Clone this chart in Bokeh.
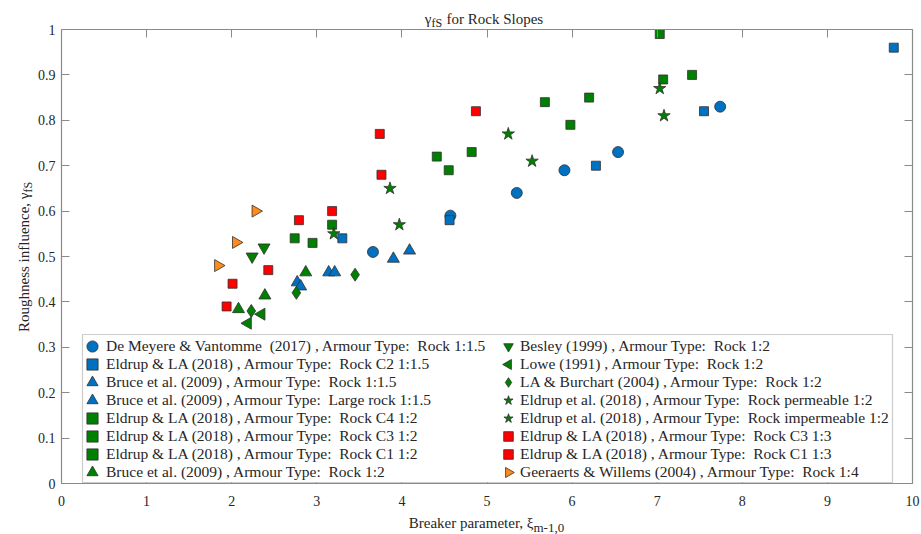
import math
from bokeh.plotting import figure
from bokeh.models import (LinearAxis, FixedTicker, NumeralTickFormatter, Legend,
                          LegendItem, BoxAnnotation, Label, Range1d)
from bokeh.embed import file_html
from bokeh.resources import INLINE

FONT = "Liberation Serif"

# ---------------- data ----------------
x_ticks = [0, 1, 2, 3, 4, 5, 6, 7, 8, 9, 10]
y_ticks = [0.0, 0.1, 0.2, 0.3, 0.4, 0.5, 0.6, 0.7, 0.8, 0.9, 1.0]
x_limits = (0, 10)
y_limits = (0, 1)

demeyere_x = [3.66, 4.57, 5.35, 5.91, 6.54, 7.74]
demeyere_y = [0.51, 0.59, 0.64, 0.69, 0.73, 0.83]

eldrup_c2_15_x = [3.30, 4.56, 6.28, 7.55, 9.78]
eldrup_c2_15_y = [0.54, 0.58, 0.70, 0.82, 0.96]

bruce_15_x = [2.77, 3.14, 3.90]
bruce_15_y = [0.443, 0.465, 0.495]

bruce_large_15_x = [2.81, 3.21, 4.09]
bruce_large_15_y = [0.434, 0.465, 0.513]

eldrup_c4_2_x = [2.95, 4.55, 5.98, 7.07]
eldrup_c4_2_y = [0.53, 0.69, 0.79, 0.89]

eldrup_c3_2_x = [2.74, 4.41, 5.68, 7.03]
eldrup_c3_2_y = [0.54, 0.72, 0.84, 0.99]

eldrup_c1_2_x = [3.18, 4.82, 6.20, 7.41]
eldrup_c1_2_y = [0.57, 0.73, 0.85, 0.90]

bruce_2_x = [2.08, 2.39, 2.87]
bruce_2_y = [0.384, 0.414, 0.465]

besley_x = [2.24, 2.38]
besley_y = [0.50, 0.52]

lowe_x = [2.19, 2.35]
lowe_y = [0.353, 0.373]

la_burchart_x = [2.23, 2.76, 3.45]
la_burchart_y = [0.38, 0.42, 0.46]

eldrup_perm_x = [3.20, 3.97, 5.53, 7.08]
eldrup_perm_y = [0.55, 0.57, 0.71, 0.81]

eldrup_imperm_x = [3.86, 5.25, 7.03]
eldrup_imperm_y = [0.65, 0.77, 0.87]

eldrup_c3_3_x = [2.01, 2.79, 3.74, 4.87]
eldrup_c3_3_y = [0.44, 0.58, 0.77, 0.82]

eldrup_c1_3_x = [1.94, 2.43, 3.18, 3.76]
eldrup_c1_3_y = [0.39, 0.47, 0.60, 0.68]

geeraerts_x = [1.84, 2.05, 2.28]
geeraerts_y = [0.48, 0.531, 0.60]

BLUE = "#0070C0"
GREEN = "#008000"
RED = "#FF0000"
ORANGE = "#FF8C1A"
EDGE = "#303030"

LEFT = math.pi / 2
RIGHT = -math.pi / 2

series = [
    # label, x, y, marker, color, size, angle
    ("De Meyere & Vantomme  (2017) , Armour Type:  Rock 1:1.5", demeyere_x, demeyere_y, "circle", BLUE, 11, 0),
    ("Eldrup & LA (2018) , Armour Type:  Rock C2 1:1.5", eldrup_c2_15_x, eldrup_c2_15_y, "square", BLUE, 9, 0),
    ("Bruce et al. (2009) , Armour Type:  Rock 1:1.5", bruce_15_x, bruce_15_y, "triangle", BLUE, 12, 0),
    ("Bruce et al. (2009) , Armour Type:  Large rock 1:1.5", bruce_large_15_x, bruce_large_15_y, "triangle", BLUE, 12, 0),
    ("Eldrup & LA (2018) , Armour Type:  Rock C4 1:2", eldrup_c4_2_x, eldrup_c4_2_y, "square", GREEN, 9, 0),
    ("Eldrup & LA (2018) , Armour Type:  Rock C3 1:2", eldrup_c3_2_x, eldrup_c3_2_y, "square", GREEN, 9, 0),
    ("Eldrup & LA (2018) , Armour Type:  Rock C1 1:2", eldrup_c1_2_x, eldrup_c1_2_y, "square", GREEN, 9, 0),
    ("Bruce et al. (2009) , Armour Type:  Rock 1:2", bruce_2_x, bruce_2_y, "triangle", GREEN, 12, 0),
    ("Besley (1999) , Armour Type:  Rock 1:2", besley_x, besley_y, "inverted_triangle", GREEN, 12, 0),
    ("Lowe (1991) , Armour Type:  Rock 1:2", lowe_x, lowe_y, "triangle", GREEN, 12, LEFT),
    ("LA & Burchart (2004) , Armour Type:  Rock 1:2", la_burchart_x, la_burchart_y, "diamond", GREEN, 13, 0),
    ("Eldrup et al. (2018) , Armour Type:  Rock permeable 1:2", eldrup_perm_x, eldrup_perm_y, "star", GREEN, 13, 0),
    ("Eldrup et al. (2018) , Armour Type:  Rock impermeable 1:2", eldrup_imperm_x, eldrup_imperm_y, "star", GREEN, 13, 0),
    ("Eldrup & LA (2018) , Armour Type:  Rock C3 1:3", eldrup_c3_3_x, eldrup_c3_3_y, "square", RED, 9, 0),
    ("Eldrup & LA (2018) , Armour Type:  Rock C1 1:3", eldrup_c1_3_x, eldrup_c1_3_y, "square", RED, 9, 0),
    ("Geeraerts & Willems (2004) , Armour Type:  Rock 1:4", geeraerts_x, geeraerts_y, "triangle", ORANGE, 12, RIGHT),
]

# ---------------- layout: the frame covers the whole canvas; the axes box sits inside ----------------
W, H = 921, 534
BOX_L, BOX_R, BOX_T, BOX_B = 61, 912, 29, 483   # pixel edges of the axes box
sx_per_unit = (BOX_R - BOX_L) / (x_limits[1] - x_limits[0])
sy_per_unit = (BOX_B - BOX_T) / (y_limits[1] - y_limits[0])
x_range = Range1d(x_limits[0] - BOX_L / sx_per_unit, x_limits[1] + (W - BOX_R) / sx_per_unit)
y_range = Range1d(y_limits[0] - (H - BOX_B) / sy_per_unit, y_limits[1] + BOX_T / sy_per_unit)

p = figure(width=W, height=H, x_range=x_range, y_range=y_range,
           output_backend="svg", toolbar_location=None, min_border=0)
# pixel ranges, used only for the legend swatches of the rotated markers
p.extra_x_ranges = {"px": Range1d(0, W)}
p.extra_y_ranges = {"px": Range1d(H, 0)}
p.title.visible = False
p.xgrid.visible = False
p.ygrid.visible = False
p.outline_line_color = None
p.background_fill_color = "white"
p.border_fill_color = "white"

AX_COL = "#8a8a8a"
LBL_COL = "#262626"


def style_axis(ax, ticks, show_labels, loc, bounds):
    ax.fixed_location = loc
    ax.bounds = bounds
    ax.ticker = FixedTicker(ticks=ticks)
    ax.axis_line_color = AX_COL
    ax.axis_line_width = 1.2
    ax.major_tick_line_color = AX_COL
    ax.major_tick_in = 8
    ax.major_tick_out = 0
    ax.minor_tick_in = 0
    ax.minor_tick_out = 0
    ax.major_label_text_font = FONT
    ax.major_label_text_color = LBL_COL
    ax.major_label_text_font_size = "14px"
    if not show_labels:
        ax.major_label_overrides = {t: "" for t in ticks}
        ax.major_label_standoff = 0


style_axis(p.xaxis[0], x_ticks, True, y_limits[0], x_limits)
style_axis(p.yaxis[0], y_ticks, True, x_limits[0], y_limits)
p.xaxis[0].major_label_standoff = 12
p.yaxis[0].major_label_standoff = 6
p.yaxis[0].formatter = NumeralTickFormatter(format="0.[0]")

top_ax = LinearAxis()
style_axis(top_ax, x_ticks, False, y_limits[1], x_limits)
right_ax = LinearAxis()
style_axis(right_ax, y_ticks, False, x_limits[1], y_limits)
p.add_layout(top_ax, "above")
p.add_layout(right_ax, "right")

# ---------------- data glyphs ----------------
renderers = []
for label, xs, ys, marker, color, size, ang in series:
    r = p.scatter(xs, ys, marker=marker, size=size, angle=ang,
                  fill_color=color, line_color=EDGE, line_width=0.8)
    renderers.append(r)

# ---------------- legend box + one legend per row ----------------
box = BoxAnnotation(left=82, right=892, top=H - 334, bottom=H - 482,
                    left_units="screen", right_units="screen",
                    top_units="screen", bottom_units="screen",
                    fill_color="white", fill_alpha=1.0,
                    line_color="#555555", line_width=1.2)
p.add_layout(box)

# invisible stand-in for legend rows whose marker is rotated (Bokeh draws legend markers unrotated)
blank = p.scatter([], [], marker="square", size=1, fill_alpha=0, line_alpha=0)

ROW0, ROWH = 346, 18
COL_CX = (92, 508)
COL_GW = (28, 24)
for i, (s, r) in enumerate(zip(series, renderers)):
    col, row = divmod(i, 8)
    cy = ROW0 + ROWH * row
    gw = COL_GW[col]
    x0 = COL_CX[col] - gw // 2
    legend_renderer = r
    if s[6] != 0:
        legend_renderer = blank
        p.scatter([COL_CX[col]], [cy], marker=s[3], size=0.4 * gw + 0.5, angle=s[6],
                  fill_color=s[4], line_color=EDGE, line_width=0.8,
                  x_range_name="px", y_range_name="px", level="overlay")
    lg = Legend(items=[LegendItem(label=s[0], renderers=[legend_renderer])],
                location=(x0, H - (cy + 14)), margin=0, padding=0,
                spacing=0, glyph_width=gw, glyph_height=28, label_height=18,
                label_standoff=0,
                label_text_font=FONT, label_text_font_size="15.5px",
                label_text_color=LBL_COL,
                border_line_alpha=0, background_fill_alpha=0)
    p.add_layout(lg)

# ---------------- title and axis labels (with subscripts) ----------------


def lab(px, py, text, size, align, angle=0.0):
    return Label(x=px, y=H - py, x_units="screen", y_units="screen",
                 text=text, text_font=FONT, text_font_size=size,
                 text_color=LBL_COL, text_align=align,
                 text_baseline="alphabetic", angle=angle)


p.add_layout(lab(431, 18, "γ", "15px", "right"))
p.add_layout(lab(431, 22, "fS", "12px", "left"))
p.add_layout(lab(446, 18, "for Rock Slopes", "15px", "left"))

p.add_layout(lab(533, 522, "Breaker parameter, ξ", "15px", "right"))
p.add_layout(lab(533, 527, "m-1,0", "13px", "left"))

p.add_layout(lab(23, 192, "Roughness influence, γ", "15px", "right", math.pi / 2))
p.add_layout(lab(27, 192, "fS", "12px", "left", math.pi / 2))

open("out.html", "w").write(file_html(p, INLINE))
